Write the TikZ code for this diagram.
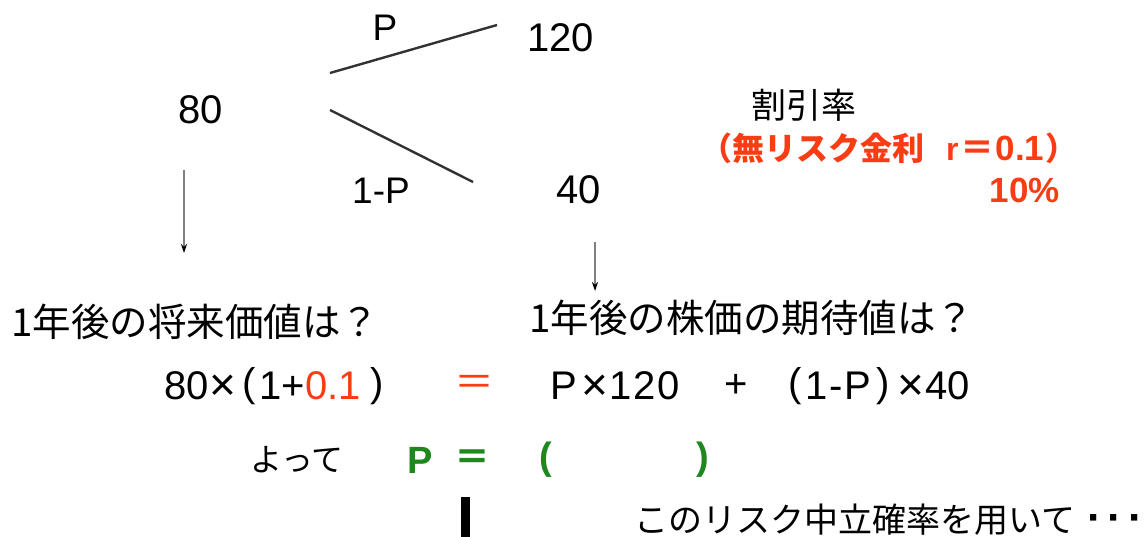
\documentclass[tikz,border=0pt]{standalone}
\usepackage{fontspec}
\setmainfont{Liberation Sans}
\newfontfamily\jp{Noto Sans CJK JP}
\newfontfamily\lib{Liberation Sans}
\usetikzlibrary{arrows.meta}
\definecolor{rred}{RGB}{250,60,20}
\definecolor{ggreen}{RGB}{30,135,30}
\definecolor{lgray}{RGB}{50,50,50}
\tikzset{
  num/.style={inner sep=0pt, font=\fontsize{40}{48}\selectfont},
  lbl/.style={inner sep=0pt, font=\fontsize{37}{44}\selectfont},
  jq/.style={inner sep=0pt, font=\jp\fontsize{38.5}{44}\selectfont},
  eq/.style={inner sep=0pt, font=\fontsize{40}{44}\selectfont},
  times/.style={inner sep=0pt, font=\fontsize{46}{50}\selectfont},
  branch/.style={draw=lgray, line width=2.4pt},
  down/.style={draw=gray, line width=1.4pt, -{Stealth[length=9pt,width=6pt,color=black]}},
  rtxt/.style={inner sep=0pt, text=rred, font=\jp\bfseries\fontsize{32}{40}\selectfont},
  gtxt/.style={inner sep=0pt, text=ggreen, font=\bfseries\fontsize{38}{44}\selectfont},
}
\begin{document}
\begin{tikzpicture}[x=1pt,y=-1pt]
\useasboundingbox (0,0) rectangle (1148,536);
% tree
\node[num,anchor=west] (n120) at (527,38) {120};
\node[num,anchor=west] (n80) at (178,110) {80};
\node[num,anchor=west] (n40) at (556,190) {40};
\node[lbl] (lp) at (385,28) {P};
\node[lbl] (l1p) at (381,191) {1-P};
\coordinate (u0) at (330,73);
\coordinate (u1) at (497,25);
\coordinate (d0) at (330,110);
\coordinate (d1) at (473,182);
\draw[branch] (u0) -- (u1);
\draw[branch] (d0) -- (d1);
% arrows
\coordinate (a0) at (184,170);
\coordinate (a1) at (184,253);
\coordinate (b0) at (595,242);
\coordinate (b1) at (595,291);
\draw[down] (a0) -- (a1);
\draw[down] (b0) -- (b1);
% questions
\node[jq,anchor=west] (q1) at (11,322) {1年後の将来価値は？};
\node[jq,anchor=west] (q2) at (529,318) {1年後の株価の期待値は？};
% equation, left side
\node[eq,anchor=west] (e80) at (164,386) {80};
\node[times] (ex1) at (223,388) {×};
\node[eq,anchor=west] (elp1) at (242,386) {(};
\node[eq,anchor=west] (e1p) at (259,386) {1+};
\node[eq,anchor=west,text=rred] (e01) at (305,386) {0.1};
\node[eq,anchor=west] (erp1) at (370,386) {)};
% equals
\node[eq,text=rred] (eqs) at (474,386) {\jp ＝};
% equation, right side
\node[eq,anchor=west] (eP) at (550,386) {P};
\node[times] (ex2) at (595,388) {×};
\node[eq,anchor=west] (e120) at (609,386) {1\kern2pt2\kern2pt0};
\node[eq] (eplus) at (736,386) {+};
\node[eq,anchor=west] (elp2) at (788,386) {(};
\node[eq,anchor=west] (e1P) at (805,386) {1\kern2pt-\kern2pt P};
\node[eq,anchor=west] (erp2) at (876,386) {)};
\node[times] (ex3) at (911,388) {×};
\node[eq,anchor=west] (e40) at (925,386) {40};
% result
\node[inner sep=0pt,anchor=west,font=\jp\fontsize{32}{40}\selectfont] (yotte) at (250,460) {よって};
\node[gtxt] (gp) at (420,460) {P};
\node[gtxt,font=\jp\bfseries\fontsize{36}{40}\selectfont] (geq) at (472,460) {＝};
\node[gtxt] (gl) at (546,460) {(};
\node[gtxt] (gr) at (703,460) {)};
\node[fill=black, inner sep=0pt, minimum width=9pt, minimum height=40pt] (bar) at (465,517) {};
\node[inner sep=0pt,anchor=west,font=\jp\fontsize{34}{40}\selectfont] (rn) at (634,520) {このリスク中立確率を用いて\kern12pt{\lib\bfseries\fontsize{44}{44}\selectfont ·\kern6pt·\kern6pt·}};
% discount rate
\node[inner sep=0pt,font=\jp\fontsize{35}{40}\selectfont] (wari) at (804,105) {割引率};
\node[rtxt,anchor=west] (mu) at (700,148) {（無リスク金利};
\node[rtxt,anchor=west] (rr) at (946,148) {{\lib\bfseries r}\kern2pt{\fontsize{34}{40}\selectfont ＝}\kern1pt{\lib\bfseries\fontsize{35}{40}\selectfont 0.1}\kern1pt）};
\node[rtxt,font=\bfseries\fontsize{35}{40}\selectfont] (pct) at (1025,190) {10\%};
\end{tikzpicture}
\end{document}
